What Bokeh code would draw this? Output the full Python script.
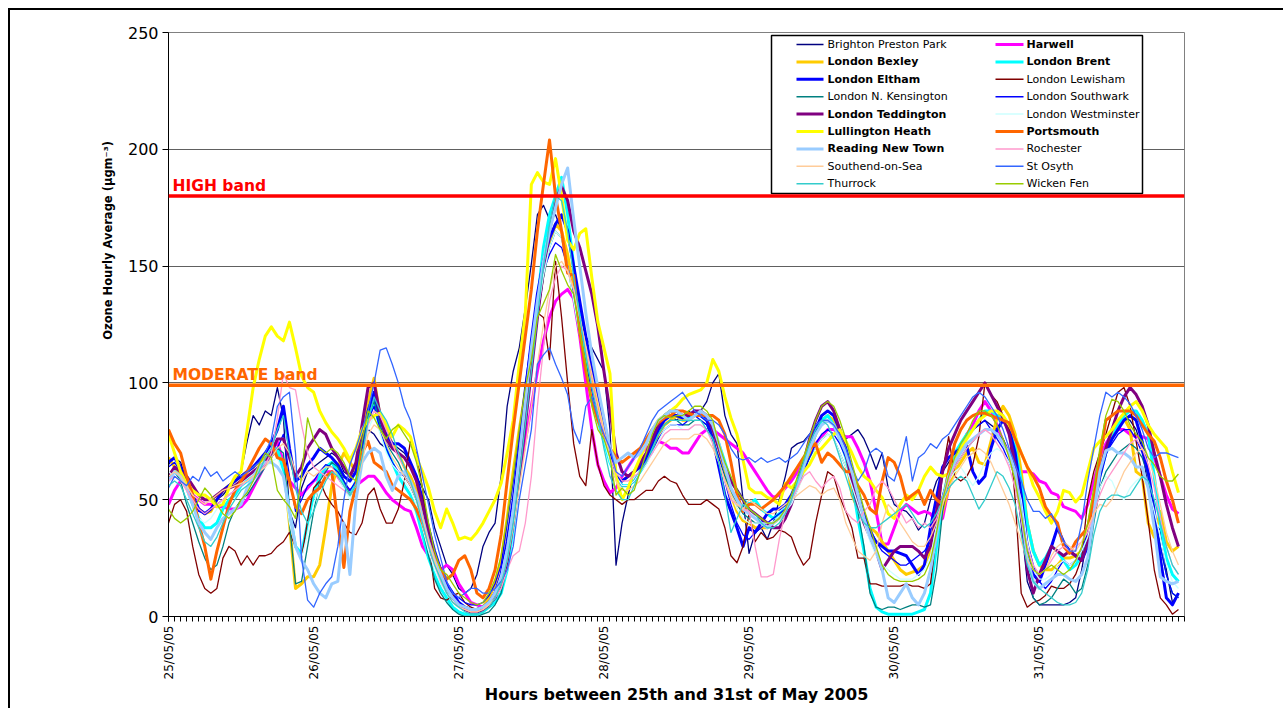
import math
from bokeh.plotting import figure
from bokeh.models import Range1d, FixedTicker, Span, Label
from bokeh.embed import file_html
from bokeh.resources import INLINE
from bokeh.core.properties import value

# ---------------- data (hourly ozone, µg/m3, 25/05/05 00:00 .. 31/05/05 23:00) ----------------
HOURS = list(range(168))
DAY_TICKS = [0, 24, 48, 72, 96, 120, 144]
DAY_LABELS = ["25/05/05", "26/05/05", "27/05/05", "28/05/05", "29/05/05", "30/05/05", "31/05/05"]
Y_TICKS = [0, 50, 100, 150, 200, 250]
HIGH_BAND = 180
MODERATE_BAND = 99

brighton_preston_park = [
    65,68,66,58,52,46,44,46,50,52,55,58,62,75,86,82,88,86,98,85,45,38,55,62,
    64,66,68,70,68,62,60,64,72,80,78,74,72,74,72,70,66,60,55,50,38,30,22,18,
    12,10,12,18,30,36,40,60,90,105,115,132,151,172,176,170,172,165,150,138,128,120,115,110,
    105,80,22,40,52,62,65,70,76,82,85,86,84,86,88,86,88,92,100,104,86,78,74,50,
    27,36,38,33,40,50,60,72,74,75,78,82,84,84,82,78,76,78,80,76,70,63,70,55,
    48,46,45,42,37,40,50,58,62,66,70,74,78,80,82,84,82,80,76,70,60,40,15,8,
    5,5,5,5,5,6,8,20,35,50,62,72,78,82,85,84,80,72,55,40,37,20,6,10]
harwell = [
    48,54,58,56,52,50,48,48,47,47,46,46,47,50,55,60,65,70,75,66,58,55,52,55,
    58,60,62,62,60,56,54,56,58,60,60,57,53,50,48,46,45,38,30,26,24,20,22,20,
    14,10,6,5,4,6,10,18,30,45,60,75,90,105,118,128,135,138,140,136,120,100,80,65,
    58,53,55,60,64,68,70,72,74,75,74,72,72,70,70,74,78,80,80,78,76,74,72,70,
    66,62,58,54,51,52,55,58,62,66,70,74,77,80,80,78,77,77,72,66,58,45,31,31,
    38,45,48,46,44,45,44,40,42,55,65,72,78,82,88,92,88,82,75,70,66,62,62,61,
    58,57,53,52,47,46,45,42,48,58,68,74,78,80,80,78,77,77,76,68,60,52,46,44]
london_bexley = [
    68,64,60,55,50,46,44,45,50,54,56,58,60,62,64,66,68,70,70,66,40,12,14,17,
    17,22,38,56,64,70,66,62,76,92,102,85,80,74,70,64,60,54,42,32,24,18,12,8,
    5,4,3,3,4,8,14,24,42,62,80,96,112,130,148,160,168,165,155,140,126,112,100,92,
    80,68,60,58,60,62,64,68,72,78,82,84,86,84,84,86,88,86,80,72,62,52,45,41,
    40,38,38,38,40,42,45,50,55,62,70,78,84,86,84,78,70,52,46,42,38,36,32,28,
    24,20,18,19,20,22,28,34,45,55,62,66,70,72,66,65,75,85,90,86,78,62,40,28,
    22,20,20,22,25,25,26,28,38,52,64,72,78,82,85,80,62,60,40,34,45,32,28,30]
london_brent = [
    60,62,60,55,48,42,38,38,40,46,50,52,56,58,60,62,66,70,72,62,45,30,27,40,
    52,60,64,66,62,56,52,58,70,86,92,80,72,66,60,56,52,45,35,25,18,12,8,4,
    2,1,1,1,2,4,6,10,20,38,60,85,110,135,158,172,180,188,172,150,128,110,95,84,
    75,66,60,56,56,58,62,66,72,80,86,88,88,86,85,86,86,84,80,74,66,58,54,50,
    48,50,46,44,42,44,46,50,56,64,72,78,84,86,82,76,68,58,42,28,12,4,2,1,
    1,1,1,1,2,3,10,30,50,62,70,74,78,80,84,88,88,86,84,80,72,58,40,28,
    22,25,30,28,24,20,22,26,34,48,60,70,76,82,86,88,88,84,78,60,40,25,18,15]
london_eltham = [
    66,68,64,58,52,46,44,46,50,54,56,58,60,62,64,67,70,74,80,90,72,58,60,65,
    68,72,70,68,65,60,58,62,74,88,96,84,78,74,74,72,66,60,50,38,28,20,14,10,
    6,4,3,3,4,6,10,18,32,50,72,95,118,138,152,162,168,172,165,150,135,120,106,95,
    84,70,60,58,60,62,64,68,74,80,84,86,86,85,86,88,86,84,76,64,52,45,38,30,
    38,36,40,44,46,46,48,52,58,66,74,80,86,88,86,80,72,62,52,44,36,32,30,28,
    28,27,26,22,18,22,38,51,64,68,70,72,73,62,57,60,72,80,84,80,70,52,30,18,
    15,22,30,38,32,28,26,24,30,45,60,70,76,80,84,86,84,75,62,45,25,8,5,10]
london_lewisham = [
    40,48,50,45,30,18,12,10,12,25,30,28,22,26,22,26,26,27,30,32,36,30,25,41,
    55,58,52,48,45,40,36,35,40,52,55,46,40,40,46,58,75,70,55,32,12,8,7,9,
    10,6,4,3,3,4,8,15,28,45,65,85,115,130,128,110,152,128,100,74,60,56,80,65,
    56,52,50,48,50,50,52,54,54,58,60,58,57,52,48,48,48,50,48,46,38,26,23,30,
    44,32,36,33,34,37,36,34,27,22,25,40,52,62,60,51,45,38,25,25,14,14,13,13,
    13,13,14,13,13,12,14,35,62,77,60,58,60,65,77,100,95,92,86,80,50,10,4,6,
    7,9,13,12,12,14,18,25,50,62,70,78,87,96,98,90,75,60,41,20,8,5,1,3]
london_n_kensington = [
    60,62,58,48,40,32,25,20,22,30,40,46,50,52,56,60,64,68,72,70,40,14,15,30,
    45,58,62,66,64,58,52,56,70,86,92,82,74,70,66,60,56,50,38,26,16,10,6,3,
    1,0,0,0,1,2,5,10,22,40,62,85,108,128,145,158,165,162,150,135,120,108,96,86,
    78,68,60,56,56,58,62,66,72,78,82,84,84,82,82,84,84,82,76,68,60,54,48,44,
    42,40,40,40,40,42,45,50,56,62,68,72,76,78,76,70,64,56,45,30,10,4,3,4,
    4,3,4,5,5,4,5,20,45,58,64,68,72,75,78,80,80,78,76,70,62,48,20,8,
    5,6,8,12,16,14,10,12,22,40,55,62,66,70,72,74,72,68,60,45,30,18,10,8]
london_southwark = [
    64,66,62,56,50,45,44,46,48,50,52,54,56,58,60,62,65,68,72,78,60,45,50,56,
    58,62,65,64,62,58,54,58,70,84,90,80,72,66,62,60,56,50,42,32,24,18,13,10,
    8,6,5,5,6,9,14,22,40,58,78,100,118,134,148,155,160,158,150,138,122,108,96,86,
    78,68,60,56,56,58,62,66,70,76,80,82,82,82,84,86,84,82,76,68,58,48,40,35,
    33,36,38,40,42,44,46,50,56,62,68,74,78,80,78,74,68,60,52,44,38,32,28,26,
    24,22,22,24,26,28,32,40,52,60,66,72,76,80,82,84,80,76,72,66,60,50,32,22,
    15,12,15,20,24,22,24,28,36,50,62,70,74,78,80,80,76,70,60,45,30,18,10,8]
london_teddington = [
    60,64,62,60,56,52,50,50,52,54,55,56,58,60,62,64,66,70,76,76,68,60,64,72,
    76,80,78,72,68,64,60,66,82,98,100,86,76,72,70,68,64,58,48,36,26,18,12,8,
    5,3,2,2,3,5,8,14,24,40,60,82,105,128,148,165,178,184,178,165,158,148,138,124,
    105,88,70,62,60,62,66,70,76,82,86,88,88,86,86,88,88,86,80,72,64,58,54,50,
    46,44,42,40,38,38,42,48,56,66,76,84,90,92,88,80,70,58,48,40,34,28,20,24,
    28,30,30,30,28,25,30,45,62,72,78,84,88,92,96,100,95,90,85,78,65,45,20,10,
    18,24,30,28,26,28,26,24,32,48,62,72,80,88,94,98,95,90,82,70,60,48,38,30]
london_westminster = [
    62,60,58,54,48,42,40,42,46,50,52,54,56,58,60,62,64,66,68,60,40,30,25,35,
    48,56,60,62,60,55,50,55,66,80,86,78,70,65,62,58,54,48,38,28,20,14,10,8,
    5,4,3,3,4,6,10,18,30,48,70,92,112,130,146,158,165,162,150,135,120,106,94,84,
    76,66,60,56,56,58,62,65,70,75,80,82,82,80,80,82,82,80,74,66,58,52,46,42,
    40,40,40,40,40,42,45,48,54,60,66,72,76,78,76,70,64,56,48,40,32,26,22,20,
    18,16,16,16,18,20,26,38,50,58,62,64,60,56,60,66,70,72,70,66,60,50,32,20,
    16,16,18,22,24,22,24,28,34,45,55,60,58,52,50,55,58,60,55,45,34,22,15,12]
lullington_heath = [
    78,70,62,57,54,52,52,50,47,48,55,60,62,80,98,110,120,124,120,118,126,115,103,98,
    96,88,83,79,76,72,67,72,80,84,86,87,82,77,82,80,77,68,62,55,45,38,46,40,
    33,34,33,36,40,45,50,57,70,84,108,130,185,190,186,185,196,180,161,157,164,166,145,126,
    115,104,60,50,55,62,68,74,80,84,86,88,90,93,95,96,97,100,110,105,94,85,78,67,
    55,53,53,51,50,48,57,55,58,62,65,70,72,75,78,80,75,70,64,60,58,54,51,44,
    42,48,52,50,54,60,64,61,60,61,66,72,76,80,84,86,88,88,86,82,77,70,64,56,
    51,45,40,45,54,53,49,52,62,72,75,77,80,84,87,90,92,88,82,78,75,72,62,53]
portsmouth = [
    80,74,70,60,52,40,30,16,28,38,48,54,58,62,67,72,76,74,68,67,58,47,44,50,
    53,55,60,62,40,21,45,56,70,75,66,64,62,56,54,52,50,46,40,32,25,20,16,18,
    24,26,20,10,8,12,20,35,58,80,100,120,140,165,185,204,180,165,147,146,122,105,92,84,
    78,72,68,66,68,70,72,76,80,83,85,86,88,88,87,86,86,86,86,84,78,66,52,45,
    48,48,46,48,50,53,56,60,64,68,72,74,66,70,68,65,62,62,56,52,46,44,58,68,
    66,60,50,52,54,48,54,50,48,62,74,80,84,86,87,87,86,85,84,83,76,70,64,60,
    55,47,43,40,30,27,32,35,38,50,68,84,86,88,88,88,86,82,78,75,68,58,50,40]
reading_new_town = [
    58,62,60,55,48,40,36,33,38,42,44,46,48,55,60,64,66,66,64,60,45,30,24,20,
    14,10,8,14,15,40,18,50,66,70,72,70,60,54,60,62,58,52,42,32,24,18,12,8,
    5,4,3,3,4,6,10,16,28,45,68,92,115,135,152,165,175,185,192,170,150,130,112,98,
    85,72,66,68,70,68,70,74,80,84,86,88,88,86,84,86,88,86,82,74,64,55,50,46,
    44,42,40,38,40,42,45,50,56,64,72,78,82,84,82,76,70,62,52,42,34,28,20,8,
    6,10,14,8,5,10,20,35,50,60,66,70,74,76,78,80,80,78,74,70,62,45,25,15,
    12,14,16,18,18,16,15,18,25,44,62,71,72,70,70,68,64,64,55,38,17,15,14,15]
rochester = [
    58,60,58,54,50,46,44,46,48,50,52,54,56,58,60,62,65,70,85,104,98,97,82,70,
    64,62,60,58,56,54,52,56,68,82,88,86,80,74,68,64,58,50,40,30,22,15,10,6,
    4,3,2,2,3,5,8,12,20,26,28,40,60,90,115,135,145,150,148,140,128,115,100,88,
    78,68,62,58,58,60,62,66,70,74,78,80,80,80,80,82,82,80,74,66,58,50,48,46,
    45,30,17,17,18,33,45,50,55,60,62,58,55,58,60,55,45,42,40,45,48,55,58,55,
    50,45,40,42,38,40,38,42,50,58,64,68,72,75,78,80,78,74,70,64,55,42,30,22,
    18,20,24,28,30,28,30,32,36,44,52,58,62,66,70,74,76,72,65,55,42,30,22,18]
southend_on_sea = [
    60,62,60,56,52,50,48,50,52,54,55,56,57,58,60,62,64,68,72,74,70,62,58,62,
    60,62,64,64,60,56,52,56,66,78,82,80,74,68,64,60,56,50,42,32,24,16,10,6,
    4,3,2,2,3,5,8,14,24,38,55,72,90,108,125,140,150,152,148,140,128,116,104,92,
    80,68,58,54,54,56,58,62,66,70,74,76,76,76,76,78,78,76,72,66,58,52,48,46,
    50,48,46,44,44,46,48,50,52,54,56,55,52,54,55,50,40,34,28,26,24,28,40,48,
    45,40,36,32,30,30,34,40,48,55,60,64,68,70,72,70,66,60,54,48,40,32,24,20,
    18,20,26,30,32,30,28,32,38,44,48,47,50,56,62,66,70,72,68,60,48,36,28,22]
st_osyth = [
    55,60,58,56,60,58,64,60,62,58,60,62,60,62,64,66,70,76,90,94,96,70,25,7,
    4,10,14,17,30,50,65,72,80,88,100,114,115,108,100,90,84,72,60,48,35,25,15,10,
    8,10,12,12,10,10,12,15,20,30,50,65,80,108,112,115,108,102,95,80,74,90,94,85,
    78,72,62,60,64,68,72,78,84,88,90,92,94,96,92,88,86,84,84,82,78,72,68,67,
    68,66,68,66,67,68,66,68,70,74,78,82,84,84,82,78,72,64,58,62,70,72,70,60,
    58,66,77,58,68,70,74,72,76,78,82,86,90,94,96,94,90,86,80,72,65,58,50,45,
    45,42,44,38,32,28,28,40,58,72,86,96,94,96,94,91,86,80,72,68,70,70,69,68]
thurrock = [
    56,58,56,50,44,38,32,30,34,40,46,50,54,56,58,62,68,72,80,86,70,55,45,40,
    45,52,58,62,60,56,52,56,68,84,94,88,84,78,70,64,58,50,40,30,22,16,10,6,
    4,2,1,1,2,4,8,14,24,40,60,82,105,128,150,168,180,178,165,145,128,112,98,86,
    72,60,54,50,50,56,62,66,72,78,82,84,84,84,84,84,84,80,76,66,52,36,42,48,
    46,44,40,38,38,40,44,50,58,66,74,80,84,82,76,68,60,52,45,40,38,38,40,42,
    44,46,48,44,40,38,40,44,50,55,58,60,58,52,46,50,56,62,60,55,48,35,22,15,
    12,10,8,6,5,5,6,10,20,35,45,50,52,52,51,52,56,60,58,50,40,30,22,18]
wicken_fen = [
    46,42,40,42,45,50,55,52,48,44,42,45,50,53,58,65,70,68,54,50,47,42,60,85,
    76,72,70,72,70,66,60,58,75,88,85,80,76,80,82,78,74,66,55,40,28,20,18,14,
    10,8,6,5,6,10,16,26,42,60,80,98,110,128,134,140,155,148,142,138,122,108,90,80,
    76,68,52,55,52,54,62,70,78,84,86,85,86,86,88,90,90,88,84,74,66,60,54,50,
    46,44,42,40,40,42,46,52,60,68,76,84,90,92,90,84,76,66,56,46,38,30,22,18,
    16,15,15,15,16,18,24,36,50,60,68,74,78,84,88,88,86,82,76,68,58,44,28,20,
    18,20,22,20,18,20,24,30,40,55,72,86,93,92,88,82,78,75,68,65,60,58,58,61]

# (legend name, values, colour, thick/bold)
SERIES = [
    ("Brighton Preston Park", brighton_preston_park, "#000080", False),
    ("Harwell", harwell, "#FF00FF", True),
    ("London Bexley", london_bexley, "#FFCC00", True),
    ("London Brent", london_brent, "#00FFFF", True),
    ("London Eltham", london_eltham, "#0000FF", True),
    ("London Lewisham", london_lewisham, "#800000", False),
    ("London N. Kensington", london_n_kensington, "#008080", False),
    ("London Southwark", london_southwark, "#0000FF", False),
    ("London Teddington", london_teddington, "#800080", True),
    ("London Westminster", london_westminster, "#CCFFFF", False),
    ("Lullington Heath", lullington_heath, "#FFFF00", True),
    ("Portsmouth", portsmouth, "#FF6600", True),
    ("Reading New Town", reading_new_town, "#99CCFF", True),
    ("Rochester", rochester, "#FF99CC", False),
    ("Southend-on-Sea", southend_on_sea, "#FFCC99", False),
    ("St Osyth", st_osyth, "#3366FF", False),
    ("Thurrock", thurrock, "#33CCCC", False),
    ("Wicken Fen", wicken_fen, "#99CC00", False),
]
for _n, _v, _c, _b in SERIES:
    assert len(_v) == 168, (_n, len(_v))

FONT = "DejaVu Sans"
Y_TITLE = "Ozone Hourly Average (µgm⁻³)"
X_TITLE = "Hours between 25th and 31st of May 2005"

# ---------------- layout (page pixels; the figure sits at the page origin) ----------------
W, H = 1283, 708
F_LEFT, F_RIGHT, F_TOP, F_BOTTOM = 168, 1184, 32, 616
PX_PER_HOUR = (F_RIGHT - F_LEFT) / 168.0
PX_PER_UNIT = (F_BOTTOM - F_TOP) / 250.0


def hx(px):  # page pixel x -> data x
    return (px - F_LEFT) / PX_PER_HOUR


def vy(py):  # page pixel y -> data y
    return (F_BOTTOM - py) / PX_PER_UNIT


p = figure(width=W, height=H, x_range=Range1d(0, 168), y_range=Range1d(0, 250),
           output_backend="svg", toolbar_location=None,
           min_border_left=F_LEFT, min_border_right=W - F_RIGHT,
           min_border_top=F_TOP, min_border_bottom=H - F_BOTTOM)
# outer chart-area frame (left and top edges visible, as in the original)
p.styles = {"box-shadow": "inset 8px 8px 0 0 #ffffff, inset 10px 10px 0 0 #000000",
            "background-color": "#ffffff"}
p.background_fill_color = "white"
p.border_fill_color = None
p.outline_line_color = "#808080"
p.outline_line_width = 1

# grid
p.xgrid.visible = False
p.ygrid.ticker = FixedTicker(ticks=Y_TICKS)
p.ygrid.grid_line_color = "#606060"
p.ygrid.grid_line_width = 1

# y axis (title sits above the axis centre in the original: pad its start with no-break spaces)
ya = p.yaxis[0]
ya.ticker = FixedTicker(ticks=Y_TICKS, minor_ticks=[])
ya.axis_label = "\u00a0" * 42 + Y_TITLE
ya.axis_label_text_font = FONT
ya.axis_label_text_font_size = "11.5px"
ya.axis_label_text_font_style = "bold"
ya.axis_label_text_color = "#000000"
ya.axis_label_standoff = 10
ya.major_label_text_font = FONT
ya.major_label_text_font_size = "16px"
ya.major_label_text_color = "#000000"
ya.major_label_standoff = 4
ya.major_tick_out = 6
ya.major_tick_in = 0
ya.minor_tick_out = 0
ya.minor_tick_in = 0
ya.axis_line_color = "#000000"
ya.major_tick_line_color = "#000000"

# x axis
xa = p.xaxis[0]
xa.ticker = FixedTicker(ticks=DAY_TICKS, minor_ticks=list(range(0, 169)))
xa.major_label_overrides = {t: lab for t, lab in zip(DAY_TICKS, DAY_LABELS)}
xa.major_label_orientation = math.pi / 2
xa.major_label_text_font = FONT
xa.major_label_text_font_size = "12px"
xa.major_label_text_color = "#000000"
xa.major_label_standoff = 4
xa.axis_label = X_TITLE
xa.axis_label_text_font = FONT
xa.axis_label_text_font_size = "16px"
xa.axis_label_text_font_style = "bold"
xa.axis_label_text_color = "#000000"
xa.axis_label_standoff = 3
xa.major_tick_out = 5
xa.major_tick_in = 0
xa.minor_tick_out = 5
xa.minor_tick_in = 0
xa.axis_line_color = "#000000"
xa.major_tick_line_color = "#000000"
xa.minor_tick_line_color = "#000000"

# series
for name, vals, color, thick in SERIES:
    p.line(HOURS, vals, line_color=color, line_width=3 if thick else 1.3,
           line_join="round")

# band lines + labels
p.add_layout(Span(location=HIGH_BAND, dimension="width", line_color="#FF0000", line_width=3.5))
p.add_layout(Span(location=MODERATE_BAND, dimension="width", line_color="#FF6600", line_width=3.5))
p.add_layout(Label(x=hx(172), y=vy(194), text="HIGH band", text_color="#FF0000",
                   text_font=FONT, text_font_size="15.5px", text_font_style="bold",
                   text_baseline="bottom"))
p.add_layout(Label(x=hx(172), y=vy(383), text="MODERATE band", text_color="#FF6600",
                   text_font=FONT, text_font_size="15.5px", text_font_style="bold",
                   text_baseline="bottom"))

# legend (drawn by hand so that some entries can be bold)
LG_L, LG_R, LG_T, LG_B = 771, 1142, 35, 193
p.quad(left=[hx(LG_L)], right=[hx(LG_R)], top=[vy(LG_T)], bottom=[vy(LG_B)],
       fill_color="white", line_color="#000000", line_width=1.5)
ROW0, ROW_STEP = 44, 17.4
COLS = [(796, 823, 827), (995, 1023, 1026)]
for k, (name, vals, color, thick) in enumerate(SERIES):
    col, row = k % 2, k // 2
    x0, x1, xt = COLS[col]
    yy = vy(ROW0 + row * ROW_STEP)
    p.line([hx(x0), hx(x1)], [yy, yy], line_color=color, line_width=3 if thick else 1.5)
    p.text(x=[hx(xt)], y=[yy], text=[name], text_font=value(FONT), text_font_size="11px",
           text_font_style="bold" if thick else "normal", text_baseline="middle",
           text_align="left", text_color="#000000")

open("out.html", "w").write(file_html(p, INLINE))
